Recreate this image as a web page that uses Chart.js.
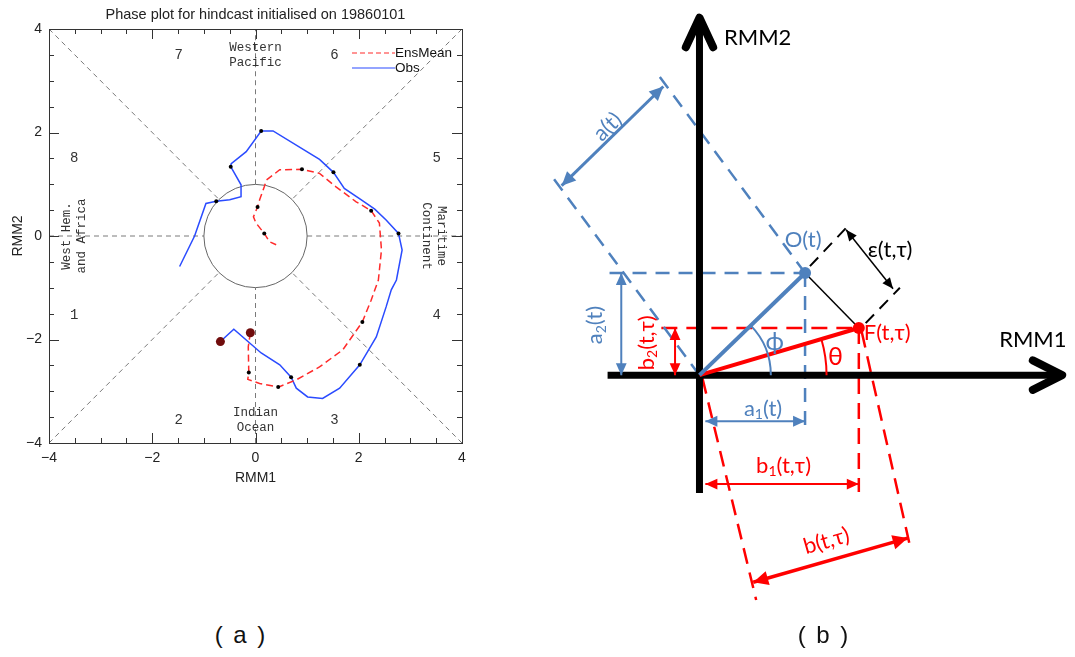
<!DOCTYPE html>
<html><head><meta charset="utf-8">
<script src="https://cdn.jsdelivr.net/npm/chart.js@4/dist/chart.umd.min.js"></script>
<style>
html,body{margin:0;padding:0;background:#fff;width:1075px;height:657px;overflow:hidden}
#ca{position:absolute;left:0;top:0}
#cb{position:absolute;left:540px;top:0}
.cap{position:absolute;top:620px;width:120px;text-align:center;font:24px "Liberation Sans",Arial,sans-serif;letter-spacing:2px;color:#111;white-space:pre;line-height:30px}
</style></head><body>
<canvas id="ca" width="540" height="500"></canvas>
<canvas id="cb" width="535" height="657"></canvas>
<div class="cap" style="left:181px">( a )</div>
<div class="cap" style="left:764px">( b )</div>
<script>
// ---------- Panel (a) data ----------
const ticksA = [-4, -2, 0, 2, 4];
const obsX = [-0.68,-0.42,0.11,0.47,0.69,0.79,1.01,1.30,1.63,2.02,2.34,2.53,2.63,2.73,2.84,2.77,2.53,2.31,2.05,1.72,1.51,1.24,0.34,0.11,-0.18,-0.47,-0.48,-0.28,-0.28,-0.50,-0.76,-0.96,-1.18,-1.47];
const obsY = [-2.04,-1.80,-2.26,-2.49,-2.73,-2.94,-3.11,-3.14,-2.94,-2.49,-1.95,-1.37,-1.04,-0.85,-0.27,0.05,0.31,0.52,0.70,0.92,1.23,1.48,2.03,2.03,1.63,1.40,1.34,0.99,0.76,0.70,0.67,0.63,0.00,-0.59];
const ensX = [-0.10,-0.14,-0.13,-0.15,0.08,0.44,0.79,1.24,1.69,2.07,2.24,2.38,2.44,2.40,2.24,1.95,1.56,1.24,0.90,0.47,0.21,0.17,0.08,0.04,-0.04,0.01,0.17,0.27,0.40];
const ensY = [-1.87,-2.14,-2.64,-2.77,-2.85,-2.92,-2.78,-2.53,-2.20,-1.66,-1.24,-0.85,-0.27,0.25,0.49,0.66,0.95,1.21,1.29,1.28,1.08,0.95,0.70,0.56,0.37,0.25,0.05,-0.11,-0.17];
const obsDotX = [0.69,2.02,2.77,1.51,0.11,-0.48,-0.76];
const obsDotY = [-2.73,-2.49,0.05,1.23,2.03,1.34,0.67];
const ensDotX = [-0.13,0.44,2.07,2.24,0.90,0.04,0.17];
const ensDotY = [-2.64,-2.92,-1.66,0.49,1.29,0.56,0.05];
const startX = [-0.68,-0.10];
const startY = [-2.04,-1.87];
const phaseLabels = ['1','2','3','4','5','6','7','8'];
const phaseX = [-3.51,-1.49,1.53,3.51,3.51,1.53,-1.49,-3.51];
const phaseY = [-1.53,-3.56,-3.56,-1.53,1.51,3.50,3.50,1.51];
const regionText = [['Western','Pacific'],['Indian','Ocean'],['West Hem.','and Africa'],['Maritime','Continent']];
const regionX = [0, 0, -3.52, 3.45];
const regionY = [3.5, -3.55, 0, 0];
const regionRot = [0, 0, -90, 90];
const legendNames = ['EnsMean','Obs'];
const titleA = 'Phase plot for hindcast initialised on 19860101';

const pts = (xs, ys) => xs.map((x, i) => ({x, y: ys[i]}));

const phaseDecor = {
  id: 'phaseDecor',
  beforeDatasetsDraw(chart) {
    const {ctx, scales: {x, y}} = chart;
    ctx.save();
    ctx.strokeStyle = '#7a7a7a'; ctx.lineWidth = 1; ctx.setLineDash([5, 4]);
    const r = Math.SQRT1_2;
    const segs = [[-4,-4,-r,-r],[4,4,r,r],[-4,4,-r,r],[4,-4,r,-r],[-4,0,-1,0],[1,0,4,0],[0,-4,0,-1],[0,1,0,4]];
    segs.forEach(s => { ctx.beginPath(); ctx.moveTo(x.getPixelForValue(s[0]), y.getPixelForValue(s[1])); ctx.lineTo(x.getPixelForValue(s[2]), y.getPixelForValue(s[3])); ctx.stroke(); });
    ctx.setLineDash([]);
    ctx.strokeStyle = '#666'; ctx.lineWidth = 1;
    ctx.beginPath();
    ctx.arc(x.getPixelForValue(0), y.getPixelForValue(0), x.getPixelForValue(1) - x.getPixelForValue(0), 0, Math.PI * 2);
    ctx.stroke();
    ctx.fillStyle = '#333'; ctx.textAlign = 'center'; ctx.textBaseline = 'middle';
    ctx.font = '14px "Liberation Mono", monospace';
    phaseLabels.forEach((t, i) => ctx.fillText(t, x.getPixelForValue(phaseX[i]), y.getPixelForValue(phaseY[i])));
    ctx.font = '12.5px "Liberation Mono", monospace';
    regionText.forEach((lines, i) => {
      ctx.save();
      ctx.translate(x.getPixelForValue(regionX[i]), y.getPixelForValue(regionY[i]));
      ctx.rotate(regionRot[i] * Math.PI / 180);
      ctx.fillText(lines[0], 0, -7.5);
      ctx.fillText(lines[1], 0, 7.5);
      ctx.restore();
    });
    ctx.restore();
  },
  afterDraw(chart) {
    const {ctx, chartArea: a, scales: {x, y}} = chart;
    ctx.save();
    ctx.strokeStyle = '#333'; ctx.lineWidth = 1;
    ctx.strokeRect(a.left + 0.5, a.top + 0.5, a.right - a.left, a.bottom - a.top);
    ctx.beginPath();
    for (let v = -4; v <= 4.001; v += 0.5) {
      const major = Math.abs(v / 2 - Math.round(v / 2)) < 1e-6;
      const L = major ? 10 : 5;
      const px = Math.round(x.getPixelForValue(v)) + 0.5, py = Math.round(y.getPixelForValue(v)) + 0.5;
      ctx.moveTo(px, a.bottom); ctx.lineTo(px, a.bottom - L);
      ctx.moveTo(px, a.top); ctx.lineTo(px, a.top + L);
      ctx.moveTo(a.left, py); ctx.lineTo(a.left + L, py);
      ctx.moveTo(a.right, py); ctx.lineTo(a.right - L, py);
    }
    ctx.stroke();
    ctx.fillStyle = '#222';
    ctx.font = '14px "Liberation Sans", Arial, sans-serif';
    ctx.textAlign = 'center'; ctx.textBaseline = 'middle';
    ticksA.forEach(v => ctx.fillText(String(v).replace('-', '\u2212'), x.getPixelForValue(v), a.bottom + 15));
    ctx.textAlign = 'right';
    ticksA.forEach(v => ctx.fillText(String(v).replace('-', '\u2212'), a.left - 7, y.getPixelForValue(v)));
    ctx.textAlign = 'center';
    ctx.fillText('RMM1', (a.left + a.right) / 2, a.bottom + 35);
    ctx.save(); ctx.translate(18, (a.top + a.bottom) / 2); ctx.rotate(-Math.PI / 2); ctx.fillText('RMM2', 0, 0); ctx.restore();
    ctx.font = '14.5px "Liberation Sans", Arial, sans-serif';
    ctx.fillText(titleA, (a.left + a.right) / 2, 15);
    const lx = 352, ly = [53, 68], cols = ['#ff2a2a', '#2a4bff'];
    legendNames.forEach((n, i) => {
      ctx.strokeStyle = cols[i]; ctx.lineWidth = 1.2; ctx.setLineDash(i === 0 ? [5, 3] : []);
      ctx.beginPath(); ctx.moveTo(lx, ly[i]); ctx.lineTo(lx + 43, ly[i]); ctx.stroke();
      ctx.setLineDash([]);
      ctx.textAlign = 'left'; ctx.fillStyle = '#111';
      ctx.font = '13.5px "Liberation Sans", Arial, sans-serif';
      ctx.fillText(n, lx + 43, ly[i]);
    });
    ctx.restore();
  }
};

new Chart(document.getElementById('ca'), {
  type: 'scatter',
  data: { datasets: [
    { data: pts(startX, startY), pointRadius: 4.5, pointBackgroundColor: '#700c0c', pointBorderWidth: 0, order: 0 },
    { data: pts(obsDotX, obsDotY), pointRadius: 2, pointBackgroundColor: '#000', pointBorderWidth: 0, order: 1 },
    { data: pts(ensDotX, ensDotY), pointRadius: 2, pointBackgroundColor: '#000', pointBorderWidth: 0, order: 1 },
    { label: legendNames[0], data: pts(ensX, ensY), showLine: true, borderColor: '#ff2a2a', borderWidth: 1.5, borderDash: [7, 4], pointRadius: 0, order: 2 },
    { label: legendNames[1], data: pts(obsX, obsY), showLine: true, borderColor: '#2a4bff', borderWidth: 1.5, pointRadius: 0, order: 3 }
  ]},
  options: {
    responsive: false, animation: false, events: [], devicePixelRatio: 1,
    layout: { padding: { left: 49, top: 29, right: 78, bottom: 57 } },
    plugins: { legend: { display: false }, tooltip: { enabled: false } },
    scales: { x: { type: 'linear', min: -4, max: 4, display: false }, y: { type: 'linear', min: -4, max: 4, display: false } }
  },
  plugins: [phaseDecor]
});

// ---------- Panel (b) diagram geometry (origin = RMM origin, y up) ----------
const axisSegs = [[-94, 0, 371, 0], [0, -120, 0, 364]];
const blueDashSegs = [[-92, 104, 108, 104], [108, 104, 108, -56], [108, 104, -43, 307], [0, 0, -152, 204]];
const redDashSegs = [[-39, 48, 163, 48], [163, 48, 163, -119], [3, -3, 58, -229], [166, 44, 216, -177]];
const blackDashSegs = [[113, 111, 151, 151], [170, 53, 205, 89]];
const pointO = [108, 104];
const pointF = [163, 48];
const arrowSegs = [[-141, 193, -37, 294], [-80, 104, -80, 0], [6, -47, 108, -47], [-25, 48, -25, 0], [6, -111, 163, -111], [55, -211, 213, -166], [150, 148, 198, 88]];
const arrowNames = ['a(t)', 'a2(t)', 'a1(t)', 'b2(t,τ)', 'b1(t,τ)', 'b(t,τ)', 'ε(t,τ)'];
const phiRadius = 73, thetaRadius = 130;
const textB = ['RMM2', 'RMM1', 'O(t)', 'F(t,τ)', 'ϕ', 'θ'];
const textBX = [25, 341, 106, 168, 77, 139];
const textBY = [343, 36, 138, 43, 34, 19];
const arrowLabelX = [-94, -107, 65, -54, 86, 130, 195];
const arrowLabelY = [253, 51, -34, 33, -92, -169, 128];

const BLUE = '#4f81bd', RED = '#ff0000', BLACK = '#000';
const arrowStyle = [[BLUE, 3], [BLUE, 2], [BLUE, 2], [RED, 2], [RED, 2], [RED, 3.5], [BLACK, 1.5]];
const arrowLabelRot = [-44, -90, 0, -90, 0, -16, 0];
const arrowLabelCol = [BLUE, BLUE, BLUE, RED, RED, RED, BLACK];

const segData = s => [{x: s[0], y: s[1]}, {x: s[2], y: s[3]}];
const dsB = [];
blackDashSegs.forEach(s => dsB.push({ data: segData(s), showLine: true, borderColor: BLACK, borderWidth: 2, borderDash: [12, 8], pointRadius: 0, order: 9 }));
blueDashSegs.forEach(s => dsB.push({ data: segData(s), showLine: true, borderColor: BLUE, borderWidth: 2.5, borderDash: [14, 9], pointRadius: 0, order: 9 }));
redDashSegs.forEach(s => dsB.push({ data: segData(s), showLine: true, borderColor: RED, borderWidth: 2.5, borderDash: [16, 9], pointRadius: 0, order: 9 }));
axisSegs.forEach(s => dsB.push({ data: segData(s), showLine: true, borderColor: BLACK, borderWidth: 7, pointRadius: 0, order: 8 }));
dsB.push({ data: segData([pointO[0], pointO[1], pointF[0], pointF[1]]), showLine: true, borderColor: BLACK, borderWidth: 1.5, pointRadius: 0, order: 7 });
dsB.push({ data: segData([0, 0, pointO[0], pointO[1]]), showLine: true, borderColor: BLUE, borderWidth: 4, pointRadius: 0, order: 6 });
dsB.push({ data: segData([0, 0, pointF[0], pointF[1]]), showLine: true, borderColor: RED, borderWidth: 4, pointRadius: 0, order: 6 });
arrowSegs.forEach((s, i) => dsB.push({ data: segData(s), showLine: true, borderColor: arrowStyle[i][0], borderWidth: arrowStyle[i][1], pointRadius: 0, order: 5 }));
dsB.push({ data: [{x: pointO[0], y: pointO[1]}], pointRadius: 6, pointBackgroundColor: BLUE, pointBorderWidth: 0, order: 1 });
dsB.push({ data: [{x: pointF[0], y: pointF[1]}], pointRadius: 6, pointBackgroundColor: RED, pointBorderWidth: 0, order: 1 });

const FONT_B = 'Lato, "Open Sans", sans-serif';
function richText(ctx, str, cx, cy, size, color, rotDeg) {
  const parts = [];
  const m = str.match(/^([ab])([12])(.*)$/);
  if (m) { parts.push([m[1], false]); parts.push([m[2], true]); parts.push([m[3], false]); }
  else parts.push([str, false]);
  const fMain = size + 'px ' + FONT_B;
  const fSub = Math.round(size * 0.62) + 'px ' + FONT_B;
  let w = 0;
  parts.forEach(p => { ctx.font = p[1] ? fSub : fMain; w += ctx.measureText(p[0]).width; });
  ctx.save();
  ctx.translate(cx, cy); ctx.rotate((rotDeg || 0) * Math.PI / 180);
  ctx.fillStyle = color; ctx.textBaseline = 'middle'; ctx.textAlign = 'left';
  let xx = -w / 2;
  parts.forEach(p => { ctx.font = p[1] ? fSub : fMain; ctx.fillText(p[0], xx, p[1] ? size * 0.28 : 0); xx += ctx.measureText(p[0]).width; });
  ctx.restore();
}

const diagramDecor = {
  id: 'diagramDecor',
  afterDatasetsDraw(chart) {
    const {ctx, scales: {x, y}} = chart;
    const X = v => x.getPixelForValue(v), Y = v => y.getPixelForValue(v);
    ctx.save();
    ctx.strokeStyle = BLACK; ctx.lineWidth = 8; ctx.lineCap = 'round'; ctx.lineJoin = 'round';
    const vt = axisSegs[1], ht = axisSegs[0];
    ctx.beginPath();
    ctx.moveTo(X(vt[2] - 14), Y(vt[3] - 30)); ctx.lineTo(X(vt[2]), Y(vt[3])); ctx.lineTo(X(vt[2] + 14), Y(vt[3] - 30));
    ctx.moveTo(X(ht[2] - 30), Y(ht[3] + 15)); ctx.lineTo(X(ht[2]), Y(ht[3])); ctx.lineTo(X(ht[2] - 30), Y(ht[3] - 15));
    ctx.stroke();
    ctx.lineCap = 'butt';
    arrowSegs.forEach((s, i) => {
      const [col, w] = arrowStyle[i];
      const L = 8 + w * 2, H = 3 + w * 1.2;
      const ends = [[X(s[0]), Y(s[1]), X(s[2]), Y(s[3])], [X(s[2]), Y(s[3]), X(s[0]), Y(s[1])]];
      ctx.fillStyle = col;
      ends.forEach(e => {
        const dx = e[2] - e[0], dy = e[3] - e[1], d = Math.hypot(dx, dy), ux = dx / d, uy = dy / d;
        ctx.beginPath();
        ctx.moveTo(e[0], e[1]);
        ctx.lineTo(e[0] + ux * L - uy * H, e[1] + uy * L + ux * H);
        ctx.lineTo(e[0] + ux * L + uy * H, e[1] + uy * L - ux * H);
        ctx.closePath(); ctx.fill();
      });
    });
    const ox = X(0), oy = Y(0);
    ctx.lineWidth = 2;
    ctx.strokeStyle = BLUE;
    ctx.beginPath(); ctx.arc(ox, oy, X(phiRadius) - ox, -Math.atan2(pointO[1], pointO[0]), 0); ctx.stroke();
    ctx.strokeStyle = RED;
    ctx.beginPath(); ctx.arc(ox, oy, X(thetaRadius) - ox, -Math.atan2(pointF[1], pointF[0]), 0); ctx.stroke();
    const cols = [BLACK, BLACK, BLUE, RED, BLUE, RED];
    textB.forEach((t, i) => {
      ctx.font = (i >= 4 ? 25 : 22) + 'px ' + FONT_B;
      ctx.fillStyle = cols[i]; ctx.textBaseline = 'middle';
      ctx.textAlign = (i === 0 || i === 3) ? 'left' : 'center';
      ctx.fillText(t, X(textBX[i]), Y(textBY[i]));
    });
    arrowNames.forEach((t, i) => richText(ctx, t, X(arrowLabelX[i]), Y(arrowLabelY[i]), 22, arrowLabelCol[i], arrowLabelRot[i]));
    ctx.restore();
  }
};

new Chart(document.getElementById('cb'), {
  type: 'scatter',
  data: { datasets: dsB },
  options: {
    responsive: false, animation: false, events: [], devicePixelRatio: 1,
    layout: { padding: 0 },
    plugins: { legend: { display: false }, tooltip: { enabled: false } },
    scales: { x: { type: 'linear', min: -157, max: 378, display: false }, y: { type: 'linear', min: -281, max: 376, display: false } }
  },
  plugins: [diagramDecor]
});
</script>
</body></html>
